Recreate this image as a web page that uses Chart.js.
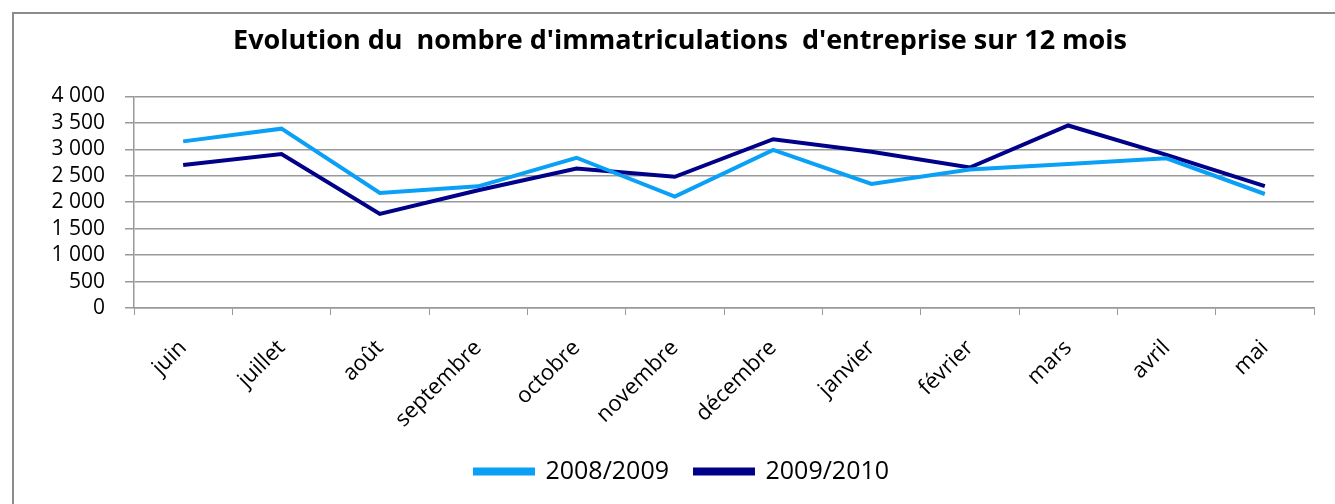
<!DOCTYPE html>
<html>
<head>
<meta charset="utf-8">
<script src="https://cdn.jsdelivr.net/npm/chart.js@4/dist/chart.umd.min.js"></script>
<style>
  html, body { margin: 0; padding: 0; background: #fff; }
  #wrap { width: 1335px; height: 504px; position: relative; }
</style>
</head>
<body>
<div id="wrap"><canvas id="myChart" width="1335" height="504"></canvas></div>
<script>
'use strict';
let months = ['juin', 'juillet', 'août', 'septembre', 'octobre', 'novembre', 'décembre', 'janvier', 'février', 'mars', 'avril', 'mai'];
let values0809 = [3150, 3390, 2175, 2300, 2840, 2105, 2990, 2345, 2620, 2720, 2830, 2155];
let values0910 = [2705, 2910, 1780, 2225, 2635, 2480, 3190, 2955, 2655, 3450, 2895, 2305];
let yTicks = [0, 500, 1000, 1500, 2000, 2500, 3000, 3500, 4000];

let font = "'Open Sans', 'DejaVu Sans', sans-serif";

// grey frame around the chart, like the spreadsheet one
let framePlugin = {
  id: 'frame',
  beforeDraw(chart) {
    let ctx = chart.ctx;
    ctx.save();
    ctx.strokeStyle = '#8c8c8c';
    ctx.lineWidth = 2;
    ctx.beginPath();
    ctx.moveTo(13, 504);
    ctx.lineTo(13, 13);
    ctx.lineTo(1335, 13);
    ctx.stroke();
    ctx.restore();
  },
  afterLayout(chart) {
    // title and legend sit a bit more to the right in the original
    if (chart.titleBlock) chart.titleBlock.left += 46;
    if (chart.legend) chart.legend.left += 50;
  }
};

let ctx = document.getElementById('myChart').getContext('2d');
let chart = new Chart(ctx, {
  type: 'line',
  data: {
    labels: months,
    datasets: [
      {
        label: '2008/2009',
        data: values0809,
        borderColor: '#0aa0f5',
        backgroundColor: '#0aa0f5',
        borderWidth: 4,
        pointRadius: 0,
        tension: 0
      },
      {
        label: '2009/2010',
        data: values0910,
        borderColor: '#000088',
        backgroundColor: '#000088',
        borderWidth: 4,
        pointRadius: 0,
        tension: 0
      }
    ]
  },
  options: {
    responsive: false,
    animation: false,
    layout: { padding: { left: 0, right: 21, top: 0, bottom: 10 } },
    plugins: {
      title: {
        display: true,
        text: "Evolution du  nombre d'immatriculations  d'entreprise sur 12 mois",
        color: '#000',
        font: { family: font, size: 27, weight: 'bold' },
        padding: { top: 25, bottom: 39 }
      },
      legend: {
        position: 'bottom',
        labels: {
          color: '#000',
          font: { family: font, size: 25 },
          boxWidth: 58,
          boxHeight: 4,
          padding: 26
        }
      },
      tooltip: { enabled: false }
    },
    scales: {
      x: {
        offset: true,
        afterFit(scale) { scale.height = 125; },
        grid: {
          offset: true,
          drawOnChartArea: false,
          drawTicks: true,
          tickLength: 7,
          color: '#999'
        },
        border: { color: '#999', width: 1.5 },
        ticks: {
          color: '#000',
          font: { family: font, size: 22 },
          minRotation: 45,
          maxRotation: 45,
          padding: 20
        }
      },
      y: {
        min: 0,
        max: 4000,
        afterFit(scale) { scale.width = 134; },
        afterBuildTicks(scale) { scale.ticks = yTicks.map(v => ({ value: v })); },
        grid: { color: '#999', lineWidth: 1.5, tickLength: 9 },
        border: { color: '#999', width: 1.5 },
        ticks: {
          autoSkip: false,
          color: '#000',
          font: { family: font, size: 21 },
          padding: 20,
          callback: v => v.toLocaleString('fr-FR').replace(/\s/g, ' ')
        }
      }
    }
  },
  plugins: [framePlugin]
});
</script>
</body>
</html>
